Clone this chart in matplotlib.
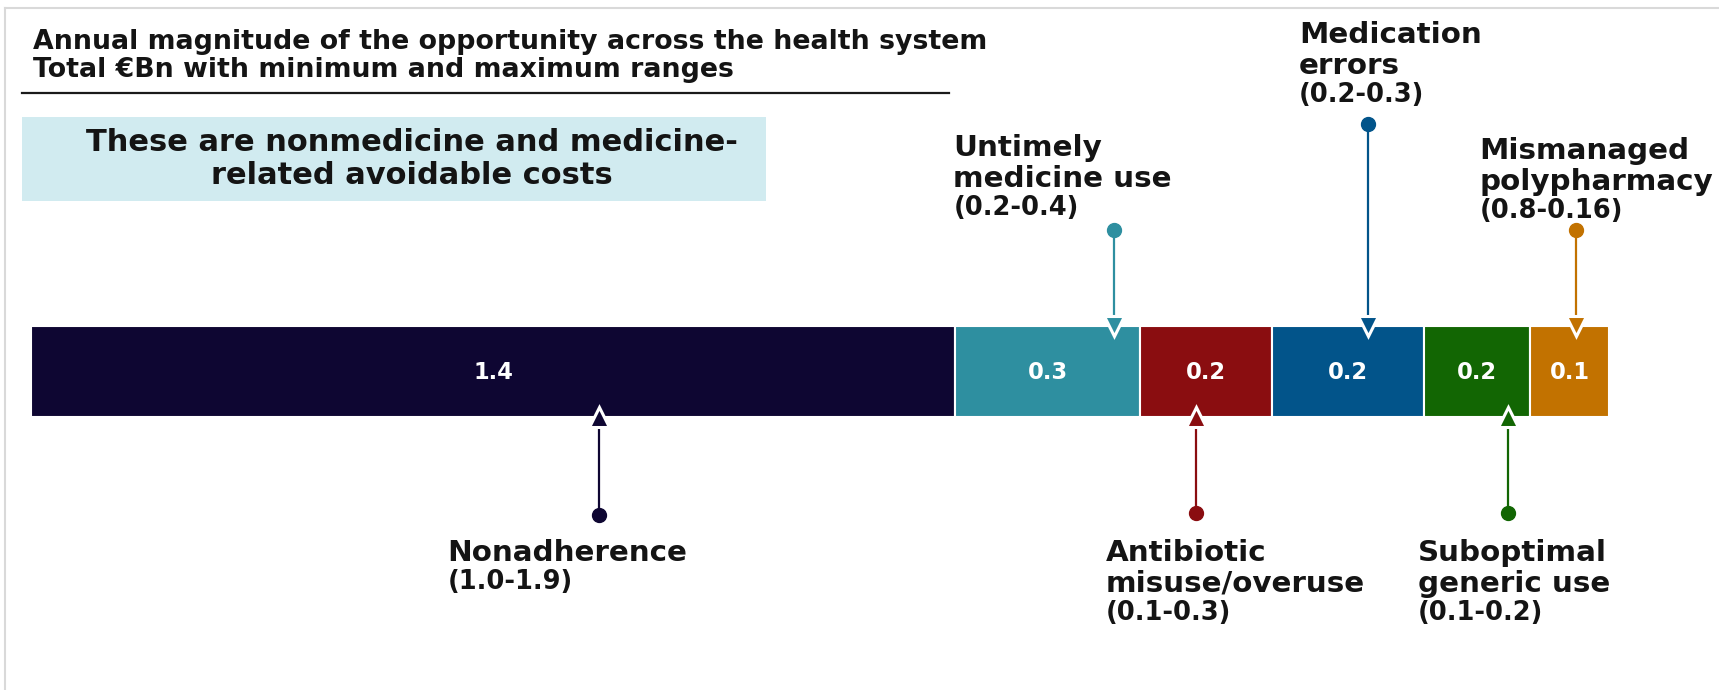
import numpy as np
import matplotlib
matplotlib.use("Agg")
import matplotlib.pyplot as plt
from matplotlib.lines import Line2D
from matplotlib.patches import Rectangle

# datos del grafico
categories = ["Nonadherence", "Untimely\nmedicine use", "Antibiotic\nmisuse/overuse",
              "Medication\nerrors", "Suboptimal\ngeneric use", "Mismanaged\npolypharmacy"]
ranges = ["(1.0-1.9)", "(0.2-0.4)", "(0.1-0.3)", "(0.2-0.3)", "(0.1-0.2)", "(0.8-0.16)"]
values = [1.40, 0.28, 0.20, 0.23, 0.16, 0.12]
value_labels = ["1.4", "0.3", "0.2", "0.2", "0.2", "0.1"]
colors = ["#0e0632", "#2e8fa0", "#8a0d10", "#02548a", "#126603", "#c27200"]

title_lines = ["Annual magnitude of the opportunity across the health system",
               "Total \u20acBn with minimum and maximum ranges"]
box_text = "These are nonmedicine and medicine-\nrelated avoidable costs"

# posiciones (en pixeles) de las anotaciones
marker_frac = [0.615, 0.86, 0.42, 0.63, 0.79, 0.58]
above = [False, True, False, True, False, True]
dot_y = [515, 230, 513, 124, 513, 230]
text_dx = [-152, -161, -90, -69, -90, -96]
text_y0 = [553, 148, 553, 35, 553, 151]

W, H = 1719, 690
bar_left_px, bar_right_px = 31, 1609
bar_top, bar_bot = 326, 417
bar_mid = (bar_top + bar_bot) / 2

plt.rcParams['font.family'] = ['DejaVu Sans']
fig = plt.figure(figsize=(W / 100, H / 100), dpi=100)
ax = fig.add_axes([0, 0, 1, 1])

total = sum(values)
ppu = (bar_right_px - bar_left_px) / total
ax.set_xlim(-bar_left_px / ppu, (W - bar_left_px) / ppu)
ax.set_ylim(H, 0)
ax.axis('off')

lefts = np.concatenate([[0], np.cumsum(values)[:-1]])

# barra apilada
ax.barh(bar_mid, values, left=lefts, height=bar_bot - bar_top, color=colors,
        edgecolor='white', linewidth=1.5, zorder=2)
for l, v, lab in zip(lefts, values, value_labels):
    ax.text(l + v / 2, bar_mid + 1, lab, color='white', fontsize=16.3, fontweight='bold',
            ha='center', va='center', zorder=5)

# marcadores y etiquetas
for i, cat in enumerate(categories):
    x = lefts[i] + marker_frac[i] * values[i]
    c = colors[i]
    if above[i]:
        tri_y, mk, line_end = bar_top, 'v', bar_top - 6
    else:
        tri_y, mk, line_end = bar_bot, '^', bar_bot + 6
    ax.plot([x, x], [dot_y[i], line_end], color=c, lw=1.6, zorder=3)
    ax.plot(x, dot_y[i], 'o', color=c, ms=10, zorder=4)
    ax.plot(x, tri_y, mk, color=c, ms=14, mec='white', mew=2.2, zorder=4)

    tx = x + text_dx[i] / ppu
    lines = cat.split('\n')
    y = text_y0[i]
    for ln in lines:
        ax.text(tx, y, ln, fontsize=21.2, fontweight='bold', color='#141414',
                ha='left', va='center')
        y += 31
    ax.text(tx, y - 2, ranges[i], fontsize=18.5, fontweight='bold', color='#141414',
            ha='left', va='center')

# titulo
fig.text(33 / W, 1 - 42 / H, title_lines[0], fontsize=19.3, fontweight='bold',
         color='#141414', ha='left', va='center')
fig.text(33 / W, 1 - 70 / H, title_lines[1], fontsize=19.3, fontweight='bold',
         color='#141414', ha='left', va='center')
fig.add_artist(Line2D([22 / W, 949 / W], [1 - 93 / H, 1 - 93 / H], color='#1a1a1a', lw=1.6))

# recuadro azul
fig.add_artist(Rectangle((22 / W, 1 - 201 / H), (766 - 22) / W, (201 - 117) / H,
                         transform=fig.transFigure, facecolor='#d1ebf0', edgecolor='none'))
fig.text(412 / W, 1 - 159 / H, box_text, fontsize=22, fontweight='bold', color='#141414',
         ha='center', va='center', linespacing=1.15)

# borde gris
fig.add_artist(Line2D([5 / W, 1], [1 - 8 / H, 1 - 8 / H], color='#d9d9d9', lw=1.5))
fig.add_artist(Line2D([5 / W, 5 / W], [0, 1 - 8 / H], color='#d9d9d9', lw=1.5))

fig.savefig('out.png', dpi=100, facecolor='white')
